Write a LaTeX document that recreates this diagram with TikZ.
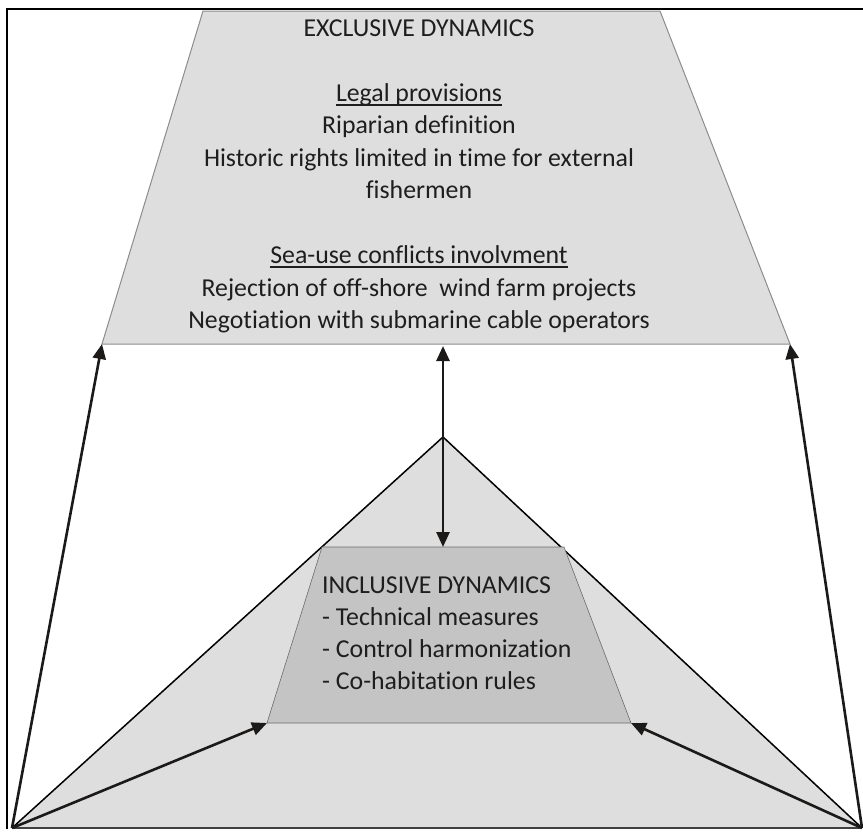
\documentclass[tikz,border=0pt]{standalone}
\usepackage{fontspec}
\setmainfont{Carlito}[Ligatures=NoCommon]
\usetikzlibrary{arrows.meta}
\definecolor{lightfill}{HTML}{DEDEDE}
\definecolor{midfill}{HTML}{C4C4C4}
\definecolor{edgegray}{HTML}{8C8C8C}
\definecolor{inkdark}{HTML}{1C1A19}
\definecolor{txt}{HTML}{1E1E1E}
\tikzset{
  conn/.style={line width=2.6pt, draw=inkdark, -{Triangle[length=15pt,width=13pt]}},
  dconn/.style={line width=2.6pt, draw=inkdark, {Triangle[length=15pt,width=13pt]}-{Triangle[length=15pt,width=13pt]}},
  line/.style={font=\fontsize{25.8pt}{32.5pt}\selectfont, text=txt, inner sep=0pt, anchor=base},
  lline/.style={line, anchor=base west},
  ul/.style={line width=1.2pt, draw=txt}
}
\begin{document}
\begin{tikzpicture}[x=1pt,y=-1pt]
\useasboundingbox (0,0) rectangle (863,831);
% corners
\coordinate (BL) at (12,828);
\coordinate (BR) at (862,828);
\coordinate (APEX) at (443,437);
\coordinate (TTL) at (203,11);
\coordinate (TTR) at (660,11);
\coordinate (TBL) at (102,344);
\coordinate (TBR) at (790,344);
\coordinate (ITL) at (322,547);
\coordinate (ITR) at (564,547);
\coordinate (IBL) at (267,723);
\coordinate (IBR) at (631,723);
\coordinate (VT) at (443,346);
\coordinate (VB) at (443,547);
% big triangle
\fill[lightfill] (BL) -- (APEX) -- (BR) -- cycle;
\draw[line width=1.5pt, black] (BL) -- (APEX) -- (BR);
% inner trapezoid
\filldraw[fill=midfill, draw=gray!85!black, line width=0.6pt] (ITL) -- (ITR) -- (IBR) -- (IBL) -- cycle;
% top trapezoid
\filldraw[fill=lightfill, draw=edgegray, line width=1pt] (TTL) -- (TTR) -- (TBR) -- (TBL) -- cycle;
% bottom base
\draw[line width=2.2pt, draw=black!75] (BL) -- (BR);
% arrows
\draw[conn] (BL) -- (TBL);
\draw[conn] (BR) -- (TBR);
\draw[conn] (BL) -- (IBL);
\draw[conn] (BR) -- (IBR);
\draw[dconn] (VB) -- (VT);
% top text
\node[line] (ex) at (419,36) {EXCLUSIVE DYNAMICS};
\node[line] (leg) at (419,101) {Legal provisions};
\node[line] (rip) at (419,133) {Riparian definition};
\node[line] (his) at (419,166) {Historic rights limited in time for external};
\node[line] (fis) at (419,198) {fishermen};
\node[line] (sea) at (419,263) {Sea-use conflicts involvment};
\node[line] (rej) at (419,296) {Rejection of off-shore\ \ wind farm projects};
\node[line] (neg) at (419,328) {Negotiation with submarine cable operators};
\draw[ul] ([yshift=-4pt]leg.base west) -- ([yshift=-4pt]leg.base east);
\draw[ul] ([yshift=-4pt]sea.base west) -- ([yshift=-4pt]sea.base east);
% inner text
\node[lline] (inc) at (322,593) {INCLUSIVE DYNAMICS};
\node[lline] (tec) at (322,625) {- Technical measures};
\node[lline] (con) at (322,657) {- Control harmonization};
\node[lline] (coh) at (322,689) {- Co-habitation rules};
% frame
\draw[line width=2.6pt, black] (863,9) -- (7,9) -- (7,829);
\end{tikzpicture}
\end{document}
